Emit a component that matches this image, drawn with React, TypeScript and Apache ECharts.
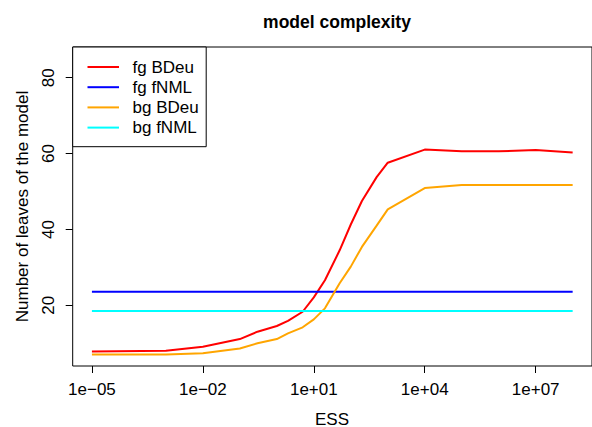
import React, { useEffect, useRef } from "react";
import * as echarts from "echarts";

const essValues = [1e-5, 1e-3, 1e-2, 1e-1, 0.3, 1, 2, 5, 10, 20, 50, 100, 200, 500, 1000, 1e4, 1e5, 1e6, 1e7, 1e8];
const fgBDeu = [7.8, 8.05, 9.1, 11.1, 13.05, 14.55, 15.9, 18.3, 22.1, 26.6, 34.5, 41.3, 47.5, 53.8, 57.6, 61.05, 60.6, 60.6, 60.95, 60.3];
const fgFNML = [23.6, 23.6, 23.6, 23.6, 23.6, 23.6, 23.6, 23.6, 23.6, 23.6, 23.6, 23.6, 23.6, 23.6, 23.6, 23.6, 23.6, 23.6, 23.6, 23.6];
const bgBDeu = [7.0, 7.05, 7.35, 8.6, 10.0, 11.1, 12.6, 14.2, 16.3, 19.2, 25.8, 30.2, 35.4, 41.0, 45.3, 50.9, 51.7, 51.7, 51.7, 51.7];
const bgFNML = [18.5, 18.5, 18.5, 18.5, 18.5, 18.5, 18.5, 18.5, 18.5, 18.5, 18.5, 18.5, 18.5, 18.5, 18.5, 18.5, 18.5, 18.5, 18.5, 18.5];

const seriesNames = ["fg BDeu", "fg fNML", "bg BDeu", "bg fNML"];
const seriesColors = ["#FF0000", "#0000FF", "#FFA500", "#00FFFF"];
const seriesData = [fgBDeu, fgFNML, bgBDeu, bgFNML];

const xTickExponents = [-5, -2, 1, 4, 7];
const xTickLabels = ["1e\u221205", "1e\u221202", "1e+01", "1e+04", "1e+07"];
const yTicks = [20, 40, 60, 80];

const FONT = "'Liberation Sans', Arial, Helvetica, sans-serif";
const FS = 17;

export default function App() {
  const ref = useRef<HTMLDivElement>(null);
  useEffect(() => {
    if (!ref.current) return;
    const chart = echarts.init(ref.current, null, { renderer: "svg" });
    const legendItems: any[] = [];
    seriesNames.forEach((name, i) => {
      const y = 67 + i * 20.2;
      legendItems.push({
        type: "line",
        shape: { x1: 87.5, y1: y, x2: 119, y2: y },
        style: { stroke: seriesColors[i], lineWidth: 2 },
        z: 101,
      });
      legendItems.push({
        type: "text",
        x: 132.5,
        y: y,
        style: { text: name, fill: "#000", font: `${FS}px ${FONT}`, textAlign: "left", textVerticalAlign: "middle" },
        z: 101,
      });
    });
    chart.setOption({
      animation: false,
      backgroundColor: "#fff",
      title: {
        text: "model complexity",
        left: 332,
        top: 8,
        textAlign: "center",
        textStyle: { fontSize: 17.5, fontWeight: "bold", fontFamily: FONT, color: "#000" },
      },
      grid: {
        left: 72.7,
        top: 47,
        width: 521,
        height: 319,
        show: true,
        borderColor: "#000",
        borderWidth: 1,
        backgroundColor: "transparent",
      },
      xAxis: {
        type: "value",
        min: -5.52,
        max: -5.52 + 521 / 37.1,
        axisLine: { show: false, onZero: false },
        splitLine: { show: false },
        axisTick: {
          show: true,
          length: 7,
          customValues: xTickExponents,
          lineStyle: { color: "#000", width: 1 },
        },
        axisLabel: {
          customValues: xTickExponents,
          margin: 15,
          fontSize: FS,
          fontFamily: FONT,
          color: "#000",
          formatter: (v: number) => {
            const idx = xTickExponents.indexOf(Math.round(v));
            return idx >= 0 ? xTickLabels[idx] : "";
          },
        },
      },
      yAxis: {
        type: "value",
        min: 4.0,
        max: 88.1,
        axisLine: { show: false, onZero: false },
        splitLine: { show: false },
        axisTick: {
          show: true,
          length: 7,
          customValues: yTicks,
          lineStyle: { color: "#000", width: 1 },
        },
        axisLabel: {
          customValues: yTicks,
          rotate: 90,
          margin: 16,
          fontSize: FS,
          fontFamily: FONT,
          color: "#000",
        },
      },
      series: seriesNames.map((name, i) => ({
        name,
        type: "line",
        data: essValues.map((e, j) => [Math.log10(e), seriesData[i][j]]),
        showSymbol: false,
        lineStyle: { color: seriesColors[i], width: 2 },
        itemStyle: { color: seriesColors[i] },
        z: 2,
      })),
      graphic: [
        {
          type: "text",
          x: 22.5,
          y: 206.5,
          rotation: Math.PI / 2,
          style: {
            text: "Number of leaves of the model",
            fill: "#000",
            font: `${FS}px ${FONT}`,
            textAlign: "center",
            textVerticalAlign: "middle",
          },
        },
        {
          type: "text",
          x: 332,
          y: 419,
          style: { text: "ESS", fill: "#000", font: `${FS}px ${FONT}`, textAlign: "center", textVerticalAlign: "middle" },
        },
        {
          type: "rect",
          shape: { x: 72.7, y: 47, width: 133.5, height: 99.7 },
          style: { fill: "#fff", stroke: "#000", lineWidth: 1 },
          z: 100,
        },
        ...legendItems,
      ],
    });
    return () => chart.dispose();
  }, []);
  return (
    <div
      ref={ref}
      style={{ position: "fixed", left: 0, top: 0, width: 592, height: 427 }}
    />
  );
}
